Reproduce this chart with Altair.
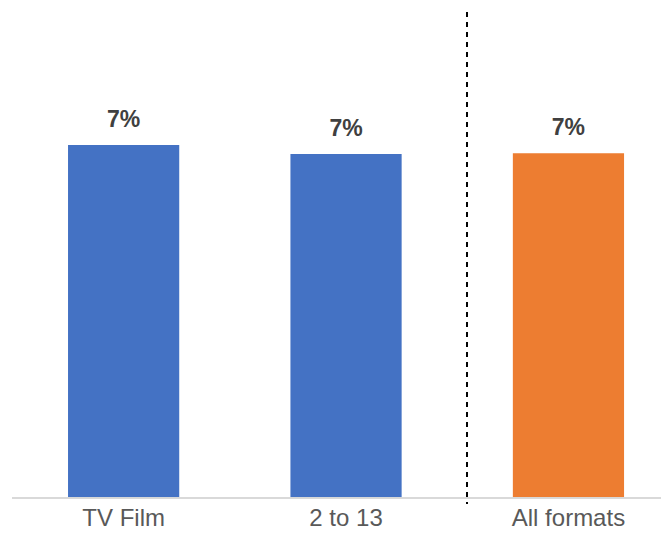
import altair as alt
import pandas as pd

categories = ["TV Film", "2 to 13", "All formats"]
values = [0.074, 0.0721, 0.0723]
labels = ["7%", "7%", "7%"]
colors = ["#4472C4", "#4472C4", "#ED7D31"]

df = pd.DataFrame({"cat": categories, "value": values, "label": labels, "color": colors})

FONT = "Liberation Sans"

x = alt.X(
    "cat:N",
    sort=categories,
    scale=alt.Scale(paddingInner=0.5, paddingOuter=0.218, align=0.619),
    axis=alt.Axis(
        title=None, labelAngle=0, ticks=False, domain=False,
        labelFontSize=24, labelFont=FONT, labelColor="#595959", labelPadding=8,
    ),
)
y = alt.Y("value:Q", scale=alt.Scale(domain=[0, 0.1]), axis=None)

base = alt.Chart(df)

bars = base.mark_bar().encode(
    x=x, y=y, color=alt.Color("color:N", scale=None)
)

text = base.mark_text(
    font=FONT, fontSize=23, fontWeight="bold", color="#404040",
    dy=-18, baseline="alphabetic",
).encode(x=x, y=y, text="label:N")

baseline = base.mark_rule(color="#d9d9d9", strokeWidth=1.5).encode(
    x=alt.value(4), x2=alt.value(653), y=alt.YDatum(0, axis=None)
)

sep = base.mark_rule(
    color="black", strokeWidth=1.5, strokeDash=[5, 5]
).encode(x=alt.value(459), y=alt.value(-9), y2=alt.value(483))

chart = (
    alt.layer(bars, baseline, text, sep)
    .properties(
        width=653, height=477,
        autosize=alt.AutoSizeParams(type="none"),
        padding={"left": 0, "top": 13, "right": 0, "bottom": 33},
    )
    .configure_view(stroke=None)
)

chart.save("out.html", embed_options={"renderer": "svg", "actions": False})
